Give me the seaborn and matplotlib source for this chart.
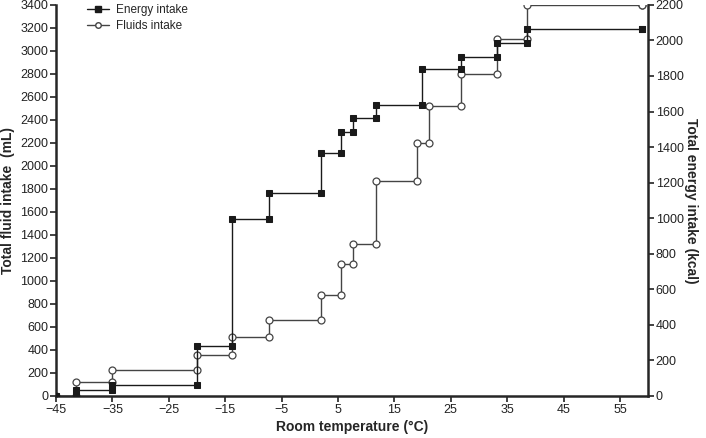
import numpy as np
import matplotlib
matplotlib.use('Agg')
import matplotlib.pyplot as plt
from matplotlib.lines import Line2D
import seaborn as sns

# 讀圖估計的數據
energy_temp = [-41.5, -35, -20, -13.8, -7.2, 2.0, 5.6, 7.7, 11.8, 19.9, 26.9, 33.2, 38.5, 58.9]
energy_cum = [36, 60, 284, 994, 1142, 1366, 1484, 1563, 1634, 1842, 1908, 1986, 2063, 2063]

fluid_temp = [-41.5, -35, -20, -13.8, -7.2, 2.0, 5.6, 7.7, 11.8, 19.1, 21.1, 26.9, 33.2, 38.5, 58.9]
fluid_cum = [122, 223, 357, 517, 664, 882, 1148, 1325, 1867, 2200, 2522, 2803, 3102, 3400, 3400]

start_temp = -45
x_ticks = [-45, -35, -25, -15, -5, 5, 15, 25, 35, 45, 55]
left_ticks = list(range(0, 3401, 200))
right_ticks = list(range(0, 2201, 200))


def step_points(temps, values):
    """每個溫度點：先畫舊值，再畫新值"""
    xs, ys = [start_temp], [0]
    prev = 0
    for t, v in zip(temps, values):
        xs += [t, t]
        ys += [prev, v]
        prev = v
    return xs, ys


sns.set_style('ticks')
plt.rcParams['font.family'] = ['Liberation Sans', 'DejaVu Sans']
plt.rcParams['axes.unicode_minus'] = True

fig = plt.figure(figsize=(7.06, 4.38), dpi=100)
ax = fig.add_axes([0.0793, 0.0959, 0.8387, 0.893])
ax2 = ax.twinx()

fx, fy = step_points(fluid_temp, fluid_cum)
ex, ey = step_points(energy_temp, energy_cum)

sns.lineplot(x=fx, y=fy, ax=ax, sort=False, estimator=None, color='#444444',
             linewidth=1.0, marker='o', markersize=5, markerfacecolor='white',
             markeredgecolor='#444444', markeredgewidth=0.9)
sns.lineplot(x=ex, y=ey, ax=ax2, sort=False, estimator=None, color='#1a1a1a',
             linewidth=1.0, marker='s', markersize=4.5, markerfacecolor='#1a1a1a',
             markeredgecolor='#1a1a1a')

ax.set_xlim(-45, 60)
ax.set_ylim(0, 3400)
ax2.set_ylim(0, 2200)
ax.set_xticks(x_ticks)
ax.set_yticks(left_ticks)
ax2.set_yticks(right_ticks)

for a in (ax, ax2):
    a.spines['top'].set_visible(False)
    for s in ('left', 'right', 'bottom'):
        a.spines[s].set_linewidth(1.8)
    a.tick_params(labelsize=9, width=1.2, length=4, color='#222222', labelcolor='#222222', pad=1.5)
ax.spines['right'].set_visible(False)
ax2.spines['left'].set_visible(False)
ax2.spines['bottom'].set_visible(False)

ax.set_xlabel('Room temperature (°C)', fontsize=10, fontweight='bold', labelpad=3)
ax.set_ylabel('Total fluid intake  (mL)', fontsize=10, fontweight='bold', labelpad=4)
ax2.set_ylabel('Total energy intake (kcal)', fontsize=10, fontweight='bold',
               rotation=270, labelpad=10)

handles = [
    Line2D([], [], color='#1a1a1a', lw=1.0, marker='s', markersize=4),
    Line2D([], [], color='#444444', lw=1.0, marker='o', markersize=4,
           markerfacecolor='white'),
]
ax.legend(handles, ['Energy intake', 'Fluids intake'], loc='upper left',
          bbox_to_anchor=(0.035, 1.03), frameon=False, fontsize=8.5,
          handlelength=1.8, handletextpad=0.6, labelspacing=0.35)

plt.savefig('out.png', dpi=100)
